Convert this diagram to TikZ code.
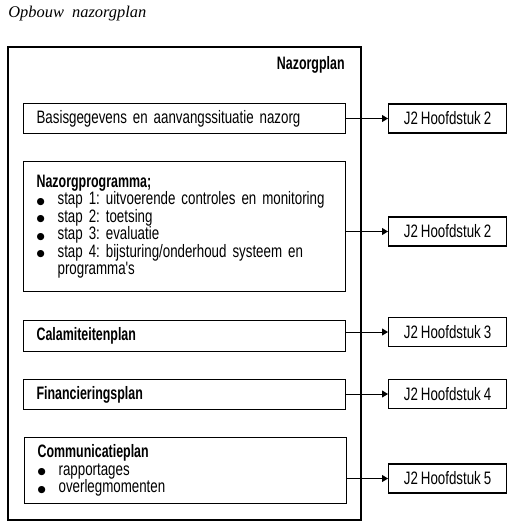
\documentclass[tikz,border=0pt]{standalone}
\usepackage{fontspec}
\newfontfamily\planfont{Liberation Sans}[FakeStretch=0.74,WordSpace=0.8,BoldFeatures={FakeStretch=0.69}]
\newfontfamily\titelfont{Liberation Serif}
\newfontfamily\bltfont{DejaVu Sans}
\usetikzlibrary{arrows.meta}
\newcommand{\blt}{\makebox[10.5pt][l]{\raisebox{0.3pt}{\bltfont\fontsize{4.7}{0}\selectfont ●}}}
\frenchspacing
\begin{document}
\begin{tikzpicture}[x=0.5pt,y=-0.5pt,
  every node/.style={font=\planfont\fontsize{9}{8.75}\selectfont},
  planbox/.style={draw,line width=.6pt,anchor=north west,text width=148pt,
    inner xsep=6.5pt,inner ysep=2pt,minimum width=161pt,align=left},
  refbox/.style={draw,line width=.6pt,anchor=west,minimum width=59pt,
    minimum height=14.5pt,inner sep=0pt},
  link/.style={line width=.5pt,-{Triangle[length=3pt,width=3.5pt]}}]
  \useasboundingbox (0,0) rectangle (519,526);
  \node[anchor=base west,inner sep=0pt,font=\titelfont\itshape\fontsize{8.2}{10}\selectfont] (titel) at (8,17) {Opbouw\ \ nazorgplan};
  % outer frame
  \draw[line width=.6pt] (8,47) rectangle (361,520);
  \node[anchor=base east,inner sep=0pt] (plan) at (345,69) {\textbf{Nazorgplan}};
  % parts of the plan
  \node[planbox,minimum height=15pt] (basis) at (23,103) {Basisgegevens en aanvangssituatie nazorg};
  \node[planbox,minimum height=65pt] (prog) at (23,161) {\textbf{Nazorgprogramma;}\\
    \blt stap 1: uitvoerende controles en monitoring\\
    \blt stap 2: toetsing\\
    \blt stap 3: evaluatie\\
    \blt stap 4: bijsturing/onderhoud systeem en\\
    \hspace*{10.5pt}programma's};
  \node[planbox,minimum height=15.5pt] (cala) at (23,320) {\textbf{Calamiteitenplan}};
  \node[planbox,minimum height=15pt] (fin) at (23,379) {\textbf{Financieringsplan}};
  \node[planbox,minimum height=33pt] (comm) at (24,437) {\textbf{Communicatieplan}\\
    \blt rapportages\\
    \blt overlegmomenten};
  % references
  \node[refbox] (ref1) at (388,118.5) {J2 Hoofdstuk 2};
  \node[refbox] (ref2) at (388,231.5) {J2 Hoofdstuk 2};
  \node[refbox] (ref3) at (388,332) {J2 Hoofdstuk 3};
  \node[refbox] (ref4) at (388,394) {J2 Hoofdstuk 4};
  \node[refbox] (ref5) at (388,478.5) {J2 Hoofdstuk 5};
  \draw[link] (basis.east |- ref1.west) -- (ref1.west);
  \draw[link] (prog.east |- ref2.west) -- (ref2.west);
  \draw[link] (cala.east |- ref3.west) -- (ref3.west);
  \draw[link] (fin.east |- ref4.west) -- (ref4.west);
  \draw[link] (comm.east |- ref5.west) -- (ref5.west);
\end{tikzpicture}
\end{document}
